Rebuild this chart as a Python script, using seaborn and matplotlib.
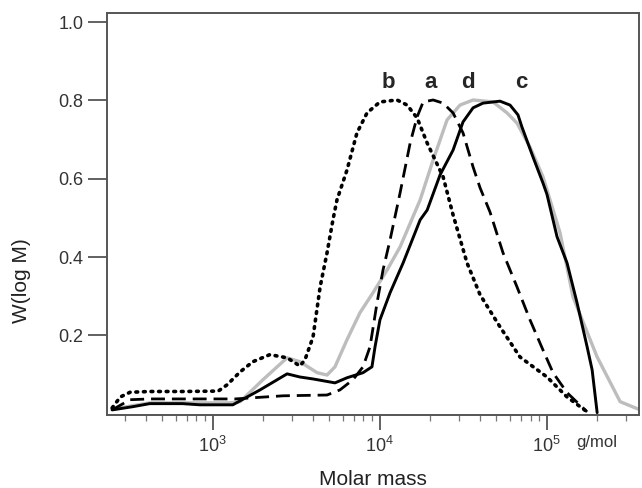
import pandas as pd
import matplotlib.pyplot as plt
import seaborn as sns

# molar mass distributions W(log M)
mass_a = [250, 320, 420, 1360, 2640, 4840, 5780, 6920, 7950, 8750, 9640, 10470, 11540,
          13250, 15220, 16760, 18210, 20900, 23970, 27500, 31550, 36240, 39890, 45770,
          54750, 66390, 79400, 95000, 109100, 132400, 174600]
w_a = [0.010, 0.036, 0.038, 0.038, 0.046, 0.048, 0.061, 0.087, 0.120, 0.171, 0.283, 0.367,
       0.444, 0.564, 0.691, 0.758, 0.796, 0.801, 0.793, 0.768, 0.717, 0.630, 0.577, 0.515,
       0.411, 0.324, 0.240, 0.163, 0.105, 0.054, 0.005]

mass_b = [250, 280, 320, 420, 660, 1080, 1220, 1460, 1740, 2200, 2790, 3330, 3570, 3990,
          4400, 4840, 5250, 5550, 6370, 7310, 8400, 10040, 12700, 14600, 16760, 19250,
          23970, 27500, 33350, 39890, 52530, 69200, 100400, 132400, 174600]
w_b = [0.015, 0.043, 0.055, 0.057, 0.057, 0.058, 0.074, 0.107, 0.133, 0.151, 0.143, 0.122,
       0.138, 0.196, 0.324, 0.411, 0.495, 0.546, 0.622, 0.717, 0.768, 0.796, 0.801, 0.788,
       0.755, 0.691, 0.605, 0.508, 0.385, 0.304, 0.222, 0.145, 0.094, 0.043, 0.005]

mass_c = [250, 330, 420, 660, 840, 1320, 1920, 2790, 3330, 3990, 5400, 6370, 7950, 8990,
          9380, 10040, 11540, 13810, 17470, 19250, 23000, 27500, 31550, 36240, 41580, 52530,
          60320, 67300, 71100, 82700, 95000, 100400, 115300, 132400, 152000, 174600, 187100,
          200500]
w_c = [0.010, 0.018, 0.026, 0.026, 0.023, 0.023, 0.061, 0.102, 0.094, 0.089, 0.079, 0.092,
       0.105, 0.120, 0.171, 0.240, 0.309, 0.385, 0.495, 0.520, 0.610, 0.673, 0.745, 0.781,
       0.793, 0.798, 0.788, 0.763, 0.732, 0.656, 0.589, 0.560, 0.452, 0.385, 0.283, 0.171,
       0.112, 0.003]

mass_d = [250, 420, 1270, 1460, 2000, 2790, 3330, 4220, 4840, 5400, 6370, 7620, 9120, 11070,
          13250, 17470, 20900, 25310, 30270, 36240, 47710, 57880, 66390, 79400, 95000,
          104700, 120200, 143800, 200500, 275300, 363000]
w_d = [0.012, 0.028, 0.028, 0.031, 0.087, 0.143, 0.133, 0.105, 0.099, 0.120, 0.189, 0.258,
       0.309, 0.367, 0.426, 0.546, 0.648, 0.750, 0.788, 0.801, 0.796, 0.768, 0.742, 0.681,
       0.605, 0.546, 0.462, 0.298, 0.145, 0.031, 0.010]

curve_labels = ['b', 'a', 'd', 'c']
label_mass = [11250, 20300, 33800, 70100]
label_y = 0.845

y_ticks = [0.2, 0.4, 0.6, 0.8, 1.0]

sns.set_style('white')
plt.rcParams['font.family'] = ['Liberation Sans', 'DejaVu Sans']
plt.rcParams['mathtext.fontset'] = 'custom'
plt.rcParams['mathtext.rm'] = 'Liberation Sans'

fig = plt.figure(figsize=(6.42, 4.88), dpi=100)
ax = fig.add_axes([107 / 642, 1 - 415 / 488, 532 / 642, 402 / 488])

df_a = pd.DataFrame({'M': mass_a, 'W': w_a})
df_b = pd.DataFrame({'M': mass_b, 'W': w_b})
df_c = pd.DataFrame({'M': mass_c, 'W': w_c})
df_d = pd.DataFrame({'M': mass_d, 'W': w_d})

sns.lineplot(data=df_d, x='M', y='W', ax=ax, color='#bdbdbd', linewidth=2.4, estimator=None)
sns.lineplot(data=df_b, x='M', y='W', ax=ax, color='black', linewidth=2.6, estimator=None,
             linestyle=(0, (0.5, 1.6)), dash_capstyle='round')
sns.lineplot(data=df_a, x='M', y='W', ax=ax, color='black', linewidth=2.0, estimator=None,
             linestyle=(0, (5, 2.5)))
sns.lineplot(data=df_c, x='M', y='W', ax=ax, color='black', linewidth=2.1, estimator=None)

for lab, m in zip(curve_labels, label_mass):
    ax.text(m, label_y, lab, fontsize=16, fontweight='bold', ha='center', va='center')

ax.set_xscale('log')
ax.set_xlim(233, 357000)
ax.set_ylim(-0.003, 1.023)
ax.set_yticks(y_ticks)
ax.set_yticklabels([f'{v:.1f}' for v in y_ticks])

for s in ax.spines.values():
    s.set_color('#555555')
    s.set_linewidth(1.4)

ax.tick_params(axis='y', which='major', direction='out', length=14, width=1.3,
               color='#555555', labelsize=13, labelcolor='#333333', left=True, pad=3)
ax.tick_params(axis='x', which='major', direction='out', length=11, width=1.3,
               color='#555555', labelsize=13, labelcolor='#333333', bottom=True, pad=4)
ax.tick_params(axis='x', which='minor', direction='out', length=4, width=0.9,
               color='#777777', bottom=True)

ax.set_xlabel('Molar mass', fontsize=15, color='#222222', labelpad=10)
ax.set_ylabel('W(log M)', fontsize=15, color='#222222')
ax.yaxis.set_label_coords(-0.143, 0.335)
fig.text(597 / 642, 1 - 442 / 488, 'g/mol', fontsize=12, color='#333333',
         ha='center', va='center')

plt.savefig('out.png', dpi=100)
